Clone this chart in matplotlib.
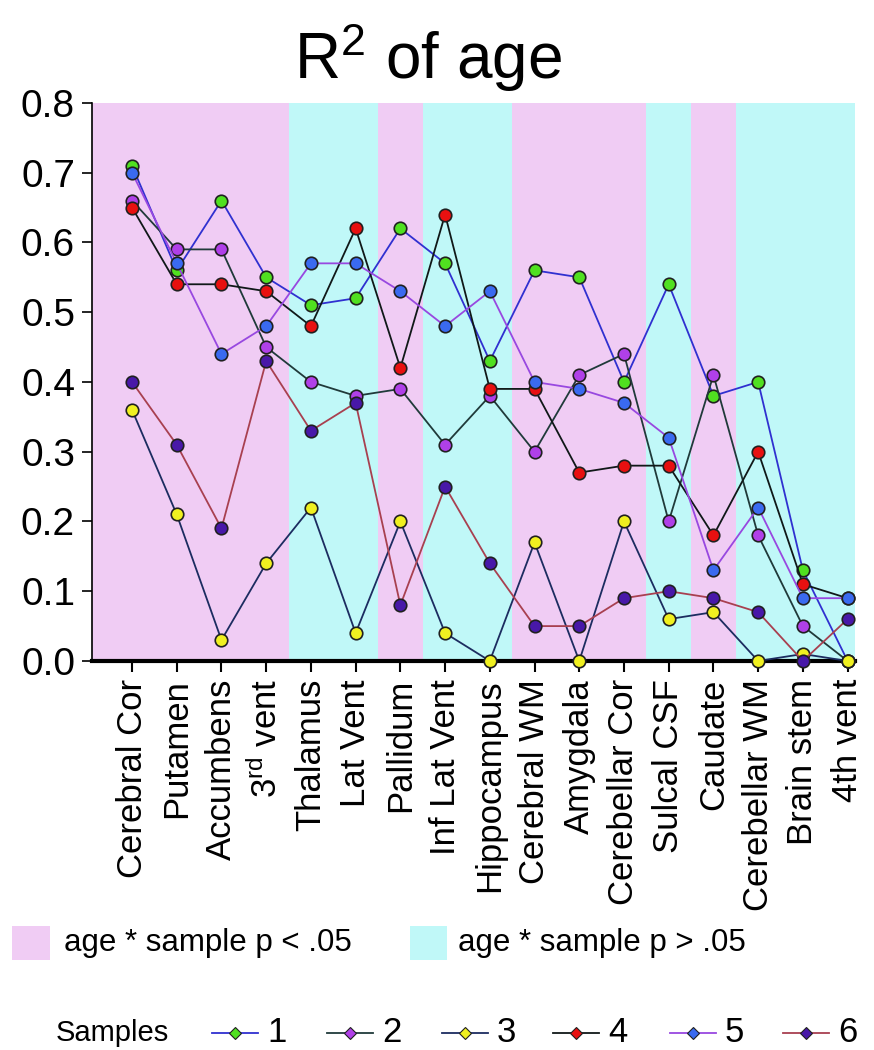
import matplotlib
matplotlib.use('Agg')
import matplotlib.pyplot as plt
from matplotlib.patches import Rectangle
from matplotlib.lines import Line2D

plt.rcParams['font.family'] = ['Liberation Sans', 'DejaVu Sans']
plt.rcParams['mathtext.fontset'] = 'custom'
plt.rcParams['mathtext.rm'] = 'Liberation Sans'
plt.rcParams['mathtext.it'] = 'Liberation Sans'

regions = ['Cerebral Cor', 'Putamen', 'Accumbens', '3$^{rd}$ vent', 'Thalamus', 'Lat Vent',
           'Pallidum', 'Inf Lat Vent', 'Hippocampus', 'Cerebral WM', 'Amygdala',
           'Cerebellar Cor', 'Sulcal CSF', 'Caudate', 'Cerebellar WM', 'Brain stem', '4th vent']
# 1 = age*sample p < .05 (pink), 0 = p > .05 (cyan)
significant = [1, 1, 1, 1, 0, 0, 1, 0, 0, 1, 1, 1, 0, 1, 0, 0, 0]

s1 = [0.71, 0.56, 0.66, 0.55, 0.51, 0.52, 0.62, 0.57, 0.43, 0.56, 0.55, 0.40, 0.54, 0.38, 0.40, 0.13, 0.00]
s2 = [0.66, 0.59, 0.59, 0.45, 0.40, 0.38, 0.39, 0.31, 0.38, 0.30, 0.41, 0.44, 0.20, 0.41, 0.18, 0.05, 0.00]
s3 = [0.36, 0.21, 0.03, 0.14, 0.22, 0.04, 0.20, 0.04, 0.00, 0.17, 0.00, 0.20, 0.06, 0.07, 0.00, 0.01, 0.00]
s4 = [0.65, 0.54, 0.54, 0.53, 0.48, 0.62, 0.42, 0.64, 0.39, 0.39, 0.27, 0.28, 0.28, 0.18, 0.30, 0.11, 0.09]
s5 = [0.70, 0.57, 0.44, 0.48, 0.57, 0.57, 0.53, 0.48, 0.53, 0.40, 0.39, 0.37, 0.32, 0.13, 0.22, 0.09, 0.09]
s6 = [0.40, 0.31, 0.19, 0.43, 0.33, 0.37, 0.08, 0.25, 0.14, 0.05, 0.05, 0.09, 0.10, 0.09, 0.07, 0.00, 0.06]

series = [s1, s2, s3, s4, s5, s6]
sample_names = ['1', '2', '3', '4', '5', '6']
line_colors = ['#3030d0', '#203a3a', '#1c2c60', '#101818', '#9848e0', '#a84050']
marker_colors = ['#50e020', '#b040e8', '#f0f020', '#e81010', '#3a6af0', '#4818a8']

pink = '#f0ccf4'
cyan = '#c0f8f8'

fig = plt.figure(figsize=(8.74, 10.5), dpi=100)
ax = fig.add_axes([0.105, 0.3705, 0.873, 0.5315])

x = list(range(len(regions)))
xmin, xmax = -0.9, 16.16
for i, sig in enumerate(significant):
    left = xmin if i == 0 else i - 0.5
    right = xmax if i == len(regions) - 1 else i + 0.5
    ax.axvspan(left, right, color=pink if sig else cyan, lw=0, zorder=0)

for vals, lc, mc in zip(series, line_colors, marker_colors):
    ax.plot(x, vals, color=lc, lw=1.3, marker='o', markersize=9,
            markerfacecolor=mc, markeredgecolor='#202020', markeredgewidth=1.2, zorder=3,
            clip_on=False)

ax.set_xlim(xmin, xmax)
ax.set_ylim(0, 0.8)
ax.set_yticks([0, 0.1, 0.2, 0.3, 0.4, 0.5, 0.6, 0.7, 0.8])
ax.set_yticklabels(['0.0', '0.1', '0.2', '0.3', '0.4', '0.5', '0.6', '0.7', '0.8'], fontsize=28)
ax.set_xticks(x)
ax.set_xticklabels(regions, rotation=90, fontsize=25, va='top', ha='center')
ax.tick_params(axis='y', length=7, width=1.2, pad=5)
ax.tick_params(axis='x', length=8, width=1.5, pad=5)
ax.spines['top'].set_visible(False)
ax.spines['right'].set_visible(False)
ax.spines['bottom'].set_linewidth(3)
ax.spines['left'].set_linewidth(1.2)

fig.text(0.49, 0.945, 'R$^2$ of age', fontsize=46, ha='center', va='center')

# background legend
fig.add_artist(Rectangle((12 / 874, 1 - 960 / 1050), 38 / 874, 34 / 1050,
                         transform=fig.transFigure, color=pink, lw=0))
fig.text(64 / 874, 1 - 943 / 1050, 'age * sample p < .05', fontsize=22.5, va='center')
fig.add_artist(Rectangle((410 / 874, 1 - 960 / 1050), 37 / 874, 34 / 1050,
                         transform=fig.transFigure, color=cyan, lw=0))
fig.text(458 / 874, 1 - 943 / 1050, 'age * sample p > .05', fontsize=22.5, va='center')

# samples legend
ly = 1 - 1033 / 1050
fig.text(56 / 874, ly, 'Samples', fontsize=21, va='center')
starts = [212, 327, 442, 553, 670, 783]
for s, name, lc, mc in zip(starts, sample_names, line_colors, marker_colors):
    fig.add_artist(Line2D([s / 874, (s + 46) / 874], [ly, ly], transform=fig.transFigure,
                          color=lc, lw=1.3))
    fig.add_artist(Line2D([(s + 23) / 874], [ly], transform=fig.transFigure, marker='D',
                          markersize=6, markerfacecolor=mc, markeredgecolor='#202020',
                          markeredgewidth=0.8, lw=0))
    fig.text((s + 55) / 874, ly, name, fontsize=25, va='center')

fig.savefig('out.png', dpi=100)
